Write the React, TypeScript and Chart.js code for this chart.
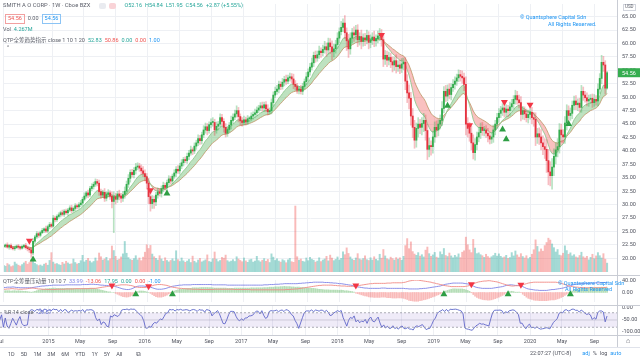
import React, { useEffect, useRef } from 'react';
import { Chart, registerables } from 'chart.js';
Chart.register(...registerables);

// ---------- DATA (weekly, week 0 = 2014-06-30) ----------
const firstOpen = 22.2;
const closes = [
  22.3,22.5,22.1,22.4,22.0,21.8,22.0,22.3,22.1,21.9,
  22.2,22.4,22.0,21.8,21.6,21.0,23.2,24.0,24.6,24.3,
  24.8,25.2,25.5,25.1,25.9,26.3,26.0,27.5,27.2,27.8,
  28.1,28.5,28.2,28.8,28.5,29.0,29.4,28.9,29.3,29.8,
  29.6,30.0,30.3,31.0,31.6,32.2,31.8,33.0,33.4,33.8,
  34.3,34.0,32.4,31.8,32.3,31.2,31.9,32.2,31.6,30.6,
  31.5,31.0,32.0,31.6,31.2,31.9,32.5,33.8,34.9,36.0,
  35.6,36.4,37.0,37.2,36.8,36.3,35.8,35.2,34.0,31.5,
  30.2,31.0,30.5,31.8,32.4,32.1,33.0,33.6,33.2,34.1,
  34.8,34.4,35.3,35.9,36.6,36.3,37.2,37.8,38.4,38.2,
  39.0,39.6,40.2,40.0,40.9,41.5,42.3,41.9,43.0,43.9,
  44.5,43.8,44.9,45.3,45.3,43.9,44.6,45.0,46.2,45.5,
  44.4,43.3,44.0,44.8,45.7,46.3,46.9,47.5,46.4,45.6,
  45.3,45.8,45.4,46.0,46.0,46.5,46.8,47.1,47.6,48.0,
  48.4,48.0,48.6,47.8,47.3,47.5,49.0,50.4,51.1,51.5,
  52.4,52.0,52.8,53.3,53.0,53.6,53.8,53.4,52.4,52.0,
  51.3,51.5,51.1,52.0,52.9,53.8,54.7,55.6,56.4,57.8,
  57.3,57.9,58.6,58.3,58.9,59.4,58.8,60.1,59.4,58.5,
  59.0,59.8,61.0,62.2,63.0,63.8,62.0,60.5,59.0,61.0,
  62.0,61.6,62.5,60.7,61.3,60.4,61.0,60.7,61.5,60.2,
  60.7,61.2,60.5,60.9,61.4,61.8,60.7,57.1,57.8,56.9,
  57.4,56.6,56.0,56.8,55.7,56.0,55.4,56.2,56.5,53.0,
  50.8,49.8,46.5,44.4,42.0,44.2,45.0,44.4,45.1,45.7,
  43.8,40.3,41.0,40.8,42.6,44.4,43.9,45.0,45.7,47.9,
  51.1,50.2,51.5,50.5,51.8,52.4,53.0,53.6,54.2,53.9,
  53.6,52.4,45.0,44.2,43.3,41.5,39.7,41.2,42.6,43.4,
  44.4,43.8,43.9,43.3,42.8,42.2,42.6,43.9,45.0,46.2,
  47.0,47.6,48.0,47.2,47.8,47.5,48.2,48.8,49.6,50.3,
  49.5,49.0,46.8,47.5,46.9,46.2,46.8,47.2,46.2,45.9,
  42.6,43.2,42.6,41.5,40.8,40.3,38.2,36.1,35.4,37.0,
  39.0,40.2,40.8,43.9,43.0,42.6,45.2,47.5,46.6,47.0,
  48.5,49.3,48.6,48.9,48.1,51.1,50.4,49.9,49.3,49.6,
  49.8,49.0,49.6,49.3,51.5,53.5,56.5,56.0,51.69,54.56,
];
const wickUp = [
  .3,.2,.4,.2,.3,.2,.3,.2,.3,.2, .3,.2,.4,.3,.2,.4,.5,.3,.4,.3,
  .3,.4,.2,.5,.3,.4,.3,.5,.4,.3, .4,.3,.5,.3,.4,.3,.4,.5,.3,.4,
  .3,.4,.5,.4,.6,.3,.5,.4,.5,.4, .5,.4,.6,.5,.4,.7,.5,.6,.4,.8,
  .9,.6,.5,.7,.5,.6,.8,.6,.7,.5, .6,.5,.7,.6,.5,.6,.8,.7,.6,.9,
  .8,.7,.6,.5,.7,.6,.5,.6,.4,.5, .6,.5,.4,.6,.5,.7,.5,.6,.4,.5,
  .6,.5,.7,.4,.6,.5,.7,.6,.5,.8, .7,.6,.5,.7,.9,.6,.8,.5,.7,.6,
  .5,.7,.6,.5,.8,.6,.7,.9,.6,.5, .6,.7,.5,.6,.4,.6,.5,.7,.6,.5,
  .6,.7,.5,.6,.8,.5,.7,.6,.8,.7, .6,.5,.7,.6,.8,.5,.7,.6,.9,.7,
  .6,.5,.7,.6,.5,.8,.6,.7,.9,.6, .8,.7,.9,.6,.8,1.0,.7,.9,.8,1.1,
  .9,.8,1.0,.7,1.1,.8,1.4,.9,1.2,1.0, .8,1.1,.9,1.0,.7,1.2,.8,.9,1.0,.7,
  .9,.8,1.1,.7,.9,1.0,.8,1.2,.9,.8, 1.0,.8,.9,.7,1.1,.8,.9,1.0,.8,.9,
  1.2,1.5,1.1,1.4,1.3,1.0,1.2,.9,1.1,1.3, 1.0,1.2,1.4,.9,1.1,1.0,1.2,.8,1.0,1.3,
  .9,1.1,.8,1.0,.7,.9,.8,.7,.9,.8, 1.0,.9,1.4,1.2,1.1,1.3,1.5,1.1,.9,1.0,
  .8,.9,.7,.8,.9,.7,.8,.9,.7,.8, .9,.7,.8,1.0,.8,.7,.9,.8,.7,1.0,
  .8,.9,1.1,.8,.7,.9,.8,.7,.9,1.0, 1.2,1.0,1.1,1.4,1.3,1.5,1.8,2.1,1.9,1.6,
  1.4,1.3,1.5,1.2,1.1,1.0,1.2,1.1,.9,1.0, .8,.9,1.0,.8,.9,1.1,.8,.7,.9,.8,
  .7,.8,.9,.7,1.0,.9,1.3,1.1,.8,.28,
];
const wickDn = [
  .2,.3,.2,.4,.3,.2,.3,.2,.4,.3, .2,.3,.3,.4,.5,.8,.3,.4,.3,.4,
  .3,.2,.4,.3,.3,.4,.3,.2,.4,.3, .3,.4,.3,.4,.3,.5,.3,.4,.3,.4,
  .4,.3,.4,.5,.3,.4,.5,.3,.4,.5, .4,.5,.7,.6,.5,.6,.5,.4,.6,1.2,
  5.8,.9,.6,.7,.8,.6,.7,.5,.6,.7, .5,.6,.7,.5,.6,.7,.6,.8,1.1,1.3,
  1.4,.9,1.2,.7,.6,.5,.7,.6,.5,.6, .5,.6,.5,.4,.7,.5,.6,.5,.6,.4,
  .5,.6,.4,.7,.5,.6,.5,.7,.6,.5, .6,.8,.5,.6,.7,1.0,.6,.7,.5,.8,
  .9,.7,.6,.5,.7,.6,.5,.6,1.0,.8, .7,.5,.6,.5,.6,.4,.6,.5,.6,.5,
  .5,.6,.7,.5,.6,.5,.6,.7,.5,.6, .7,.6,.5,.7,.6,.5,.6,.7,.8,.7,
  .6,.7,.5,.6,.5,.6,.7,.6,.5,.7, .8,.6,.7,.9,.6,.7,1.2,.8,1.3,1.5,
  1.0,.8,.7,.9,.6,.8,1.1,1.8,1.6,1.0, .9,1.2,.8,1.3,1.0,1.4,.9,1.1,.8,1.2,
  1.0,.9,1.1,1.0,.8,.9,1.2,1.4,1.0,1.2, .9,1.1,1.3,1.0,1.2,.9,1.0,.8,1.1,1.6,
  1.8,2.0,1.7,1.9,1.5,1.3,1.6,1.2,1.4,1.5, 1.8,1.9,1.4,1.6,1.2,1.0,1.3,1.1,.9,1.0,
  .8,1.0,.9,.8,1.0,.7,.9,.8,.7,.9, 1.0,1.2,2.0,1.6,1.5,1.3,1.2,1.4,1.0,.9,
  1.1,.9,1.0,.8,1.1,.9,.8,1.0,.9,.8, .9,.8,1.0,.9,.8,1.1,.9,.8,1.0,.9,
  .8,1.0,1.2,.9,1.1,.8,1.0,.9,1.1,1.3, 1.6,1.2,1.4,1.3,1.5,1.7,2.2,2.4,1.9,2.5,
  1.6,1.4,1.3,1.2,1.4,1.0,1.2,1.3,1.1,.9, 1.0,.8,.9,1.1,.8,.9,1.0,.8,.9,1.0,
  .8,.9,.7,.8,.9,.8,1.0,1.2,1.1,.21,
];
const volumes = [
  3.2,2.8,4.1,3.5,2.6,3.0,4.8,3.9,3.3,2.9, 3.6,4.4,5.2,3.8,4.6,6.1,5.5,4.2,3.6,3.1,
  3.4,2.9,3.8,4.3,3.3,5.6,9.4,4.8,3.9,4.1, 3.6,3.3,4.7,3.9,5.2,4.4,3.8,4.0,6.3,4.6,
  3.9,4.2,5.5,8.1,4.9,5.7,6.6,5.3,4.5,5.1, 6.8,5.4,9.2,7.4,5.8,6.3,7.1,5.5,6.4,12.6,
  10.4,7.6,5.8,6.2,7.3,8.8,14.8,9.1,7.0,6.1, 5.7,6.5,7.9,5.9,6.8,5.5,7.2,9.6,13.2,11.4,
  12.9,8.7,7.4,6.6,5.8,7.9,6.3,5.2,6.9,5.6, 4.9,5.6,6.4,5.3,10.3,6.0,5.1,6.8,5.4,4.7,
  5.3,6.1,4.6,7.7,5.2,4.5,5.8,6.6,4.9,5.4, 5.9,8.3,5.1,4.8,6.4,9.7,6.2,5.0,5.6,7.1,
  6.7,8.2,5.5,4.9,5.3,6.0,5.1,7.4,6.3,5.6, 5.0,6.8,5.4,4.7,5.9,6.2,4.8,5.3,7.6,5.5,
  4.9,5.7,6.5,5.2,6.1,4.6,8.8,7.2,5.6,6.4, 5.3,4.8,6.0,5.5,4.5,5.9,6.6,5.0,4.7,32.0,
  7.4,5.8,6.3,5.2,4.9,6.8,5.5,7.1,6.2,5.7, 4.8,5.3,6.9,5.0,5.8,6.3,7.6,5.4,8.2,6.7,
  5.5,6.1,7.3,5.8,6.6,9.8,8.4,11.7,9.0,7.3, 6.2,5.7,6.8,8.9,6.3,5.9,6.5,7.8,6.0,5.6,
  6.9,5.8,7.4,6.1,5.5,8.6,6.7,10.9,7.8,6.4, 6.0,7.2,6.5,5.8,7.0,6.2,6.9,5.7,7.6,12.8,
  16.2,11.3,14.6,9.9,8.7,8.1,9.4,7.7,8.4,7.3, 10.6,12.1,8.9,7.6,8.3,9.5,7.2,6.8,9.8,8.5,
  11.4,8.0,7.5,9.2,7.8,6.9,8.1,7.3,8.8,7.0, 9.6,10.3,16.9,13.2,10.7,9.4,15.8,11.6,8.9,9.3,
  8.4,7.9,7.1,8.6,7.5,6.8,7.4,8.0,9.1,7.7, 8.8,7.6,6.9,7.3,8.1,6.6,7.0,9.4,7.8,10.2,
  8.3,7.2,8.9,7.5,6.8,7.9,6.4,7.1,8.6,10.8, 15.6,12.4,9.8,11.2,10.1,12.8,14.3,16.4,15.5,13.6,
  11.8,9.7,10.9,8.2,7.9,9.1,12.7,10.4,8.6,9.3, 7.8,8.4,7.3,6.9,8.0,9.6,7.4,6.8,7.6,5.9,
  7.1,8.6,6.5,7.8,9.4,7.9,6.8,8.9,6.2,4.3,
];
const oscRed = [
  11,11,12,12,13,13,12,12,11,11, 11,12,12,13,14,15,15,14,13,12,
  12,11,11,11,10,10,10,10,10,11, 11,11,11,11,12,12,12,12,12,13,
  13,13,13,13,13,13,13,14,14,14, 14,15,16,17,18,19,20,21,21,22,
  22,23,24,25,26,26,26,26,25,24, 23,21,19,18,17,17,17,17,18,19,
  21,23,25,26,27,27,27,26,25,24, 22,20,18,17,16,15,14,14,13,13,
  12,12,12,11,11,11,11,10,10,10, 10,10,10,10,10,11,11,11,11,11,
  11,11,11,11,11,11,10,10,10,10, 10,10,10,10,10,9,9,9,9,9,
  9,9,9,9,9,9,9,9,9,9, 9,9,9,9,10,10,10,11,11,12,
  12,13,14,15,16,17,18,19,20,21, 22,23,24,24,25,25,25,25,25,25,
  24,24,23,23,22,22,22,21,21,21, 21,21,22,23,24,25,26,27,28,29,
  30,30,31,31,31,31,31,31,31,32, 32,32,33,33,33,33,33,33,34,35,
  37,39,40,41,42,42,42,41,40,39, 38,37,36,35,33,32,30,29,27,26,
  24,23,22,21,20,20,20,20,20,20, 20,20,21,22,24,26,29,32,34,36,
  37,38,39,39,40,40,39,38,37,36, 34,32,30,28,26,24,23,22,22,23,
  23,23,24,26,28,30,32,33,34,35, 35,35,35,35,35,35,35,35,35,35,
  35,35,34,33,31,29,27,25,23,21, 20,19,18,18,17,17,17,16,16,16,
  16,16,16,16,16,16,16,17,17,18,
];
const oscBlue = [
  17,17,18,18,18,19,18,17,17,16, 16,16,16,16,16,16,17,18,19,20,
  21,22,22,23,23,24,24,25,25,25, 25,25,25,25,26,26,26,26,26,26,
  26,26,26,27,27,27,27,28,28,28, 27,27,26,25,25,24,24,23,23,22,
  22,20,18,16,14,12,11,10,10,11, 13,16,19,21,22,22,22,21,20,19,
  18,16,14,12,11,11,11,12,13,15, 17,19,21,22,23,24,25,25,26,26,
  26,26,26,27,27,27,27,27,27,27, 27,27,27,27,26,26,26,26,26,26,
  26,26,25,25,25,25,25,25,25,25, 25,25,25,25,25,25,25,25,25,25,
  25,25,26,26,26,27,27,27,28,28, 28,29,29,30,30,30,30,30,30,30,
  30,31,31,32,32,33,33,34,34,35, 35,35,35,35,35,34,34,34,33,33,
  32,32,31,30,30,29,28,27,26,25, 24,22,20,19,18,17,16,15,15,14,
  14,14,14,14,14,14,15,15,15,14, 14,14,14,14,14,14,14,14,14,13,
  13,12,12,12,12,12,12,13,13,14, 14,15,16,17,18,19,20,21,22,24,
  26,28,29,30,31,32,32,32,32,32, 32,31,30,29,28,25,22,19,17,16,
  15,14,14,14,14,14,14,15,16,17, 18,19,20,22,24,25,26,26,25,24,
  24,24,23,20,17,14,12,11,10,9, 8,8,7,7,7,7,7,8,9,10,
  10,11,12,13,14,15,17,19,21,23, 25,27,28,29,30,30,31,31,31,32,
  32,32,32,33,33,33,34,34,34,34,
];
const sellWeeks = [14, 80, 206, 254, 273, 287];
const sellPrices = [23.3, 32.7, 61.6, 44.8, 49.1, 48.6];
const buyWeeks = [16, 89, 242, 272, 274, 308];
const buyPrices = [19.8, 32.1, 48.4, 44.0, 42.2, 45.0];
const tickWeeks = [0.14, 26.43, 43.57, 61.14, 78.57, 95.86, 113.43, 130.86, 148, 165.57, 183, 200.14, 217.71, 235.14, 252.29, 269.86, 287.29, 304.57, 322.14];
const tickLabels = ['Jul', '2015', 'May', 'Sep', '2016', 'May', 'Sep', '2017', 'May', 'Sep', '2018', 'May', 'Sep', '2019', 'May', 'Sep', '2020', 'May', 'Sep'];
const priceTicks = [20, 22.5, 25, 27.5, 30, 32.5, 35, 37.5, 40, 42.5, 45, 47.5, 50, 52.5, 55, 57.5, 60, 62.5, 65];
const oscTicks = [0, 40];
const wrTicks = [0, -50, -100];
const WR_UPPER = -20, WR_MID = -50, WR_LOWER = -80;

// ---------- derived tables ----------
const N = closes.length;
const opens = closes.map((c, i) => (i === 0 ? firstOpen : closes[i - 1]));
const highs = closes.map((c, i) => Math.max(opens[i], c) + wickUp[i]);
const lows = closes.map((c, i) => Math.min(opens[i], c) - wickDn[i]);
const emaOf = (src: number[], len: number) => {
  const k = 2 / (len + 1); let e = src[0];
  return src.map((v, i) => (e = i === 0 ? v : v * k + e * (1 - k)));
};
const ema10 = emaOf(closes, 10);
const ema20 = emaOf(closes, 20);
const wr = closes.map((c, i) => {
  let hh = -Infinity, ll = Infinity;
  for (let j = Math.max(0, i - 13); j <= i; j++) { hh = Math.max(hh, highs[j]); ll = Math.min(ll, lows[j]); }
  return hh === ll ? -50 : ((hh - c) / (hh - ll)) * -100;
});
const hist = oscBlue.map((b, i) => b - oscRed[i]);
const oscSell: any[] = [], oscBuy: any[] = [];
hist.forEach((h, i) => {
  if (i === 0) return;
  if (hist[i - 1] > 0 && h <= 0) oscSell.push({ x: i, y: oscRed[i] + 2 });
  if (hist[i - 1] < 0 && h >= 0) oscBuy.push({ x: i, y: -6 });
});

const X_MIN = 0.15, X_MAX = 334.4;
const FONT = "Roboto, 'Liberation Sans', 'Noto Sans CJK SC', sans-serif";
const GRID = '#eef0f4';
const AX = '#50535e';
const UP = '#35ad4f', DN = '#e53340';

const xScale = (labels: boolean) => ({
  type: 'linear', min: X_MIN, max: X_MAX, offset: false,
  afterBuildTicks: (s: any) => { s.ticks = tickWeeks.map((v) => ({ value: v })); },
  afterFit: (s: any) => { s.height = labels ? 13 : 0; s.paddingLeft = 0; s.paddingRight = 0; },
  ticks: { display: labels, autoSkip: false, maxRotation: 0, padding: 3, color: AX, font: { family: FONT, size: 5.5 }, callback: (_v: any, i: number) => tickLabels[i] },
  grid: { color: GRID, drawTicks: false, offset: false },
  border: { display: false },
});
const yRight = (min: number, max: number, ticks: number[], grid: boolean) => ({
  position: 'right', min, max,
  afterBuildTicks: (s: any) => { s.ticks = ticks.map((v) => ({ value: v })); },
  afterFit: (s: any) => { s.width = 23; s.paddingTop = 0; s.paddingBottom = 0; },
  ticks: { padding: 5, color: AX, font: { family: FONT, size: 5.5 }, callback: (v: any) => Number(v).toFixed(2) },
  grid: { display: grid, color: GRID, drawTicks: false },
  border: { display: true, color: '#c9ccd4' },
});
const base = {
  responsive: false, animation: false, devicePixelRatio: 1, events: [],
  layout: { padding: 0 },
  plugins: { legend: { display: false }, tooltip: { enabled: false } },
};

const lastPricePlugin = {
  id: 'lastPrice',
  afterDraw(chart: any) {
    const { ctx, chartArea, scales } = chart;
    const v = closes[N - 1];
    const y = scales.y.getPixelForValue(v);
    ctx.save();
    ctx.fillStyle = UP;
    ctx.fillRect(chartArea.right + 1, y - 4.5, 22, 9);
    ctx.fillStyle = '#fff';
    ctx.font = `5.5px ${FONT}`;
    ctx.textBaseline = 'middle';
    ctx.fillText(v.toFixed(2), chartArea.right + 5, y + 0.5);
    ctx.restore();
  },
};

const Row = ({ top, left, children }: any) => (
  <div style={{ position: 'absolute', top, left, display: 'flex', alignItems: 'center', gap: 3, whiteSpace: 'nowrap', lineHeight: 1, fontSize: 5.5 }}>{children}</div>
);

export default function App() {
  const r1 = useRef<HTMLCanvasElement>(null);
  const r2 = useRef<HTMLCanvasElement>(null);
  const r3 = useRef<HTMLCanvasElement>(null);

  useEffect(() => {
    document.body.style.margin = '0';
    const idx = closes.map((_, i) => i);
    const c1 = new Chart(r1.current as any, {
      type: 'bar',
      data: {
        datasets: [
          { type: 'bar', yAxisID: 'yv', order: 10, grouped: false, barThickness: 1.3,
            data: idx.map((i) => ({ x: i, y: volumes[i] })),
            backgroundColor: idx.map((i) => (closes[i] >= opens[i] ? 'rgba(38,166,154,0.42)' : 'rgba(239,83,80,0.4)')) },
          { type: 'line', order: 8, data: idx.map((i) => ({ x: i, y: ema20[i] })), borderColor: '#c39a6b', borderWidth: 0.8, pointRadius: 0, fill: false },
          { type: 'line', order: 7, data: idx.map((i) => ({ x: i, y: ema10[i] })), borderColor: '#86c488', borderWidth: 0.8, pointRadius: 0,
            fill: { target: 1, above: 'rgba(76,175,80,0.36)', below: 'rgba(239,83,80,0.36)' } },
          { type: 'bar', order: 5, grouped: false, barThickness: 1,
            data: idx.map((i) => ({ x: i, y: [lows[i], highs[i]] })),
            backgroundColor: idx.map((i) => (closes[i] >= opens[i] ? 'rgba(53,173,79,0.35)' : 'rgba(229,51,64,0.32)')) },
          { type: 'bar', order: 4, grouped: false, barThickness: 1.2, minBarLength: 1,
            data: idx.map((i) => ({ x: i, y: [opens[i], closes[i]] })),
            backgroundColor: idx.map((i) => (closes[i] >= opens[i] ? UP : DN)) },
          { type: 'line', order: 1, showLine: false, data: sellWeeks.map((w, i) => ({ x: w, y: sellPrices[i] })),
            pointStyle: 'triangle', rotation: 180, pointRadius: 4, pointBackgroundColor: '#f23645', pointBorderWidth: 0 },
          { type: 'line', order: 1, showLine: false, data: buyWeeks.map((w, i) => ({ x: w, y: buyPrices[i] })),
            pointStyle: 'triangle', pointRadius: 4, pointBackgroundColor: '#2e9e44', pointBorderWidth: 0 },
        ],
      } as any,
      options: {
        ...base,
        scales: {
          x: xScale(false),
          y: yRight(17.47, 67.35, priceTicks, true),
          yv: { display: false, min: 0, max: 130 },
        },
      } as any,
      plugins: [lastPricePlugin],
    });

    const c2 = new Chart(r2.current as any, {
      type: 'bar',
      data: {
        datasets: [
          { type: 'line', order: 2, data: idx.map((i) => ({ x: i, y: oscRed[i] })), borderColor: '#f08a85', borderWidth: 0.9, pointRadius: 0 },
          { type: 'line', order: 2, data: idx.map((i) => ({ x: i, y: oscBlue[i] })), borderColor: '#7f83e6', borderWidth: 0.9, pointRadius: 0 },
          { type: 'bar', order: 5, grouped: false, barThickness: 1,
            data: idx.map((i) => ({ x: i, y: hist[i] })),
            backgroundColor: hist.map((h) => (h >= 0 ? 'rgba(76,175,80,0.42)' : 'rgba(239,83,80,0.4)')) },
          { type: 'line', order: 1, showLine: false, data: oscSell, pointStyle: 'triangle', rotation: 180, pointRadius: 4, pointBackgroundColor: '#f23645', pointBorderWidth: 0 },
          { type: 'line', order: 1, showLine: false, data: oscBuy, pointStyle: 'triangle', pointRadius: 4, pointBackgroundColor: '#2e9e44', pointBorderWidth: 0 },
        ],
      } as any,
      options: { ...base, scales: { x: xScale(false), y: yRight(-32.5, 42.5, oscTicks, false) } } as any,
    });

    const c3 = new Chart(r3.current as any, {
      type: 'line',
      data: {
        datasets: [
          { data: [{ x: X_MIN, y: WR_UPPER }, { x: X_MAX, y: WR_UPPER }], borderColor: '#9598a1', borderWidth: 0.8, borderDash: [2, 2], pointRadius: 0 },
          { data: [{ x: X_MIN, y: WR_LOWER }, { x: X_MAX, y: WR_LOWER }], borderColor: '#9598a1', borderWidth: 0.8, borderDash: [2, 2], pointRadius: 0,
            fill: '-1', backgroundColor: 'rgba(126,87,194,0.12)' },
          { data: [{ x: X_MIN, y: WR_MID }, { x: X_MAX, y: WR_MID }], borderColor: 'rgba(149,152,161,0.45)', borderWidth: 0.8, pointRadius: 0 },
          { data: closes.map((_, i) => ({ x: i, y: wr[i] })), borderColor: '#5b67c9', borderWidth: 0.9, pointRadius: 0 },
        ],
      } as any,
      options: { ...base, scales: { x: xScale(true), y: yRight(-112.5, 8.33, wrTicks, false) } } as any,
    });
    return () => { c1.destroy(); c2.destroy(); c3.destroy(); };
  }, []);

  const t = (extra: any) => ({ position: 'absolute' as const, whiteSpace: 'nowrap' as const, lineHeight: 1, fontSize: 5.5, ...extra });
  const G = '#26a69a', R = '#ef5350', B = '#2196f3', T = '#5d606b';
  return (
    <div style={{ position: 'fixed', left: 0, top: 0, width: 640, height: 360, background: '#fff', overflow: 'hidden', fontFamily: FONT, color: T }}>
      <canvas ref={r1} width={640} height={276} style={{ position: 'absolute', left: 0, top: 0 }} />
      <canvas ref={r2} width={640} height={30} style={{ position: 'absolute', left: 0, top: 276 }} />
      <canvas ref={r3} width={640} height={42} style={{ position: 'absolute', left: 0, top: 306 }} />
      {/* separators */}
      <div style={{ position: 'absolute', left: 0, top: 275, width: 640, height: 1, background: '#c9ccd4' }} />
      <div style={{ position: 'absolute', left: 0, top: 305, width: 640, height: 1, background: '#c9ccd4' }} />
      <div style={{ position: 'absolute', left: 0, top: 335, width: 640, height: 1, background: '#c9ccd4' }} />
      <div style={{ position: 'absolute', left: 0, top: 347, width: 640, height: 1, background: '#e0e3eb' }} />
      <div style={{ position: 'absolute', left: 617, top: 0, width: 1, height: 347, background: '#c9ccd4' }} />
      {/* header */}
      <Row top={3} left={3}>
        <span style={{ fontSize: 5.8 }}>SMITH A O CORP · 1W · Cboe BZX</span>
        <span style={{ width: 7, height: 6, borderRadius: 2, background: '#e9ebf0', marginLeft: 6 }} />
        <span style={{ width: 7, height: 6, borderRadius: 2, background: '#f9d3d7' }} />
        <span style={{ color: G, marginLeft: 5 }}>O52.16</span>
        <span style={{ color: G }}>H54.84</span>
        <span style={{ color: G }}>L51.95</span>
        <span style={{ color: G }}>C54.56</span>
        <span style={{ color: G }}>+2.87 (+5.55%)</span>
      </Row>
      <Row top={14} left={5}>
        <span style={{ color: R, border: '1px solid #f2a0a0', padding: '1px 2px' }}>54.56</span>
        <span>0.00</span>
        <span style={{ color: B, border: '1px solid #8cc4f5', padding: '1px 2px' }}>54.56</span>
      </Row>
      <Row top={27} left={3}>
        <span>Vol</span><span style={{ color: G }}>4.267M</span>
      </Row>
      <Row top={38} left={3}>
        <span>QTP全筹趋势指示 close 1 10 1 20</span>
        <span style={{ color: G }}>52.83</span>
        <span style={{ color: R }}>50.86</span>
        <span style={{ color: G }}>0.00</span>
        <span style={{ color: R }}>0.00</span>
        <span style={{ color: B }}>1.00</span>
      </Row>
      <span style={t({ left: 7, top: 45, fontSize: 5 })}>^</span>
      {/* watermark */}
      <span style={t({ left: 520, top: 15, color: B })}>© Quantsphere Capital Sdn</span>
      <span style={t({ left: 548, top: 22, color: B })}>All Rights Reserved.</span>
      <span style={t({ left: 623, top: 4, fontSize: 4.5, border: '1px solid #d1d4dc', padding: '0 1px' })}>USD</span>
      {/* osc pane */}
      <Row top={279} left={3}>
        <span>QTP全筹量压动量 10 10 7</span>
        <span style={{ color: '#7f83e6' }}>33.99</span>
        <span style={{ color: R }}>-13.06</span>
        <span style={{ color: G }}>17.95</span>
        <span style={{ color: G }}>0.00</span>
        <span style={{ color: R }}>0.00</span>
        <span style={{ color: B }}>-1.00</span>
      </Row>
      <span style={t({ left: 558, top: 281, color: B })}>© Quantsphere Capital Sdn</span>
      <span style={t({ left: 565, top: 287, color: B })}>All Rights Reserved</span>
      {/* %R pane */}
      <Row top={310} left={4}>
        <span>%R 14 close</span>
        <span style={{ color: '#5b67c9' }}>-29.67</span>
      </Row>
      <span style={t({ left: 626, top: 338, fontSize: 7 })}>⌂</span>
      {/* toolbar */}
      <Row top={351} left={8}>
        {['1D', '5D', '1M', '3M', '6M', 'YTD', '1Y', '5Y', 'All'].map((s) => (
          <span key={s} style={{ color: '#50535e', marginRight: 3 }}>{s}</span>
        ))}
        <span style={{ color: '#50535e', fontSize: 6.5, marginLeft: 8 }}>⧉</span>
      </Row>
      <Row top={351} left={530}>
        <span style={{ color: '#50535e', marginRight: 8 }}>22:07:27 (UTC-8)</span>
        <span style={{ color: B }}>adj</span>
        <span style={{ color: '#50535e' }}>%</span>
        <span style={{ color: '#50535e' }}>log</span>
        <span style={{ color: B }}>auto</span>
      </Row>
    </div>
  );
}
